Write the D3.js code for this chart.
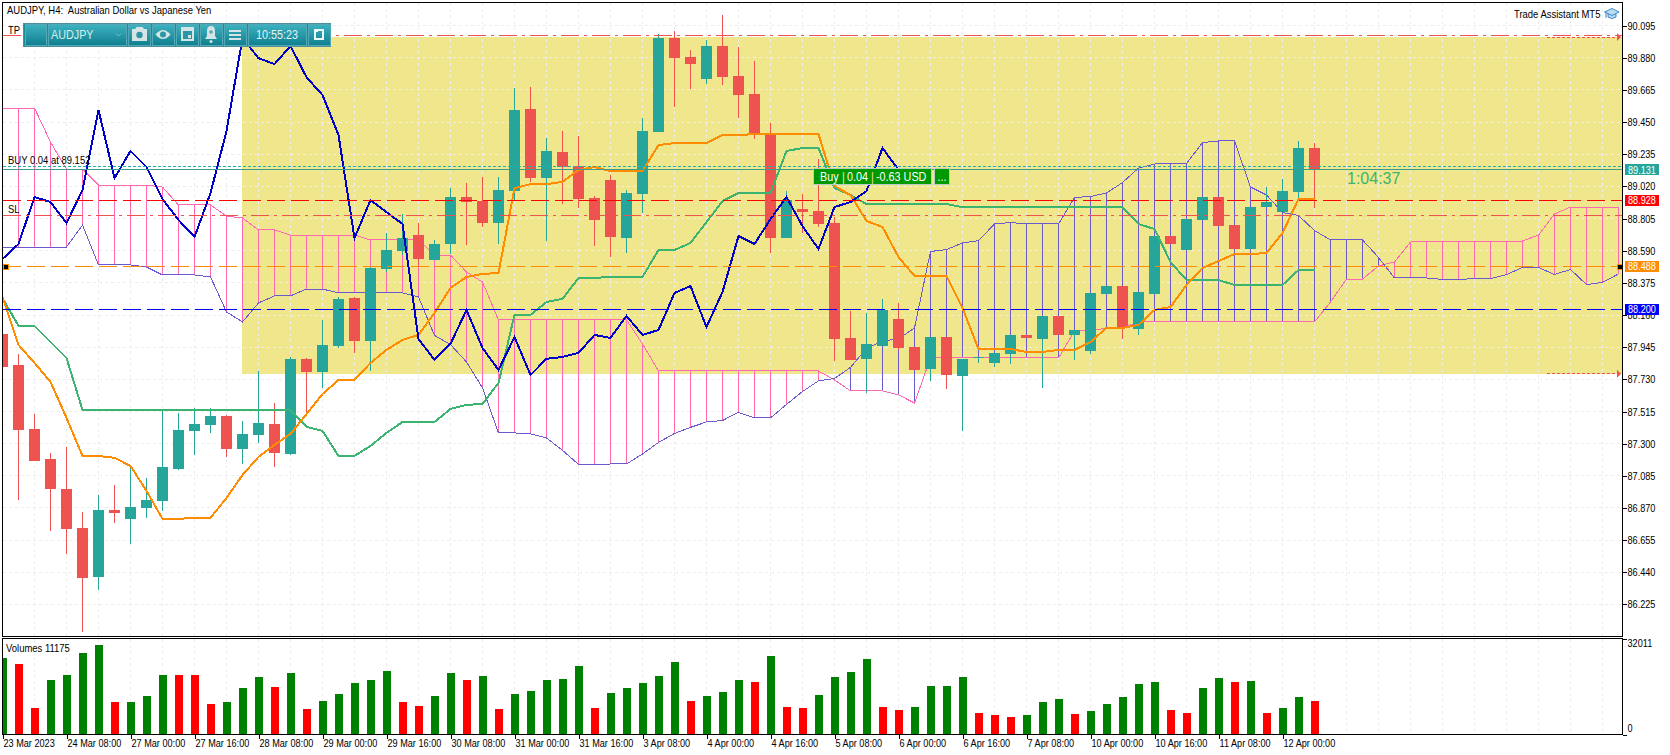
<!DOCTYPE html>
<html>
<head>
<meta charset="utf-8">
<title>AUDJPY H4</title>
<script src="https://cdn.jsdelivr.net/npm/d3@7"></script>
<style>
html, body { margin: 0; padding: 0; background: #fff; }
svg { display: block; }
text { font-family: "Liberation Sans", sans-serif; font-size: 11px; fill: #000; }
.crisp { shape-rendering: crispEdges; }
.axis path { display: none; }
.axis line { stroke: #000; }
</style>
</head>
<body>
<svg id="chart" width="1670" height="755"></svg>
<script>
const opens = [
  88.034, 87.827, 87.398, 87.198, 86.997, 86.737, 86.410, 86.857, 86.797, 86.870,
  86.917, 87.130, 87.385, 87.425, 87.485, 87.265, 87.358, 87.432, 87.231, 87.867,
  87.780, 87.953, 88.274, 87.987, 88.468, 88.588, 88.695, 88.528, 88.635, 88.949,
  88.922, 88.775, 88.989, 89.537, 89.076, 89.250, 89.157, 88.943, 89.063, 88.675,
  88.969, 89.384, 90.012, 89.885, 89.738, 89.959, 89.758, 89.638, 89.370, 88.675,
  88.869, 88.856, 88.775, 88.007, 87.867, 87.953, 88.134, 87.947, 87.800, 88.013,
  87.753, 87.873, 87.840, 87.900, 88.027, 88.000, 88.154, 88.027, 87.920, 88.301,
  88.354, 88.067, 88.301, 88.689, 88.595, 88.796, 88.949, 88.762, 88.602, 88.882,
  88.849, 88.983, 89.277
];
const highs = [
  88.034, 87.900, 87.498, 87.238, 87.278, 86.844, 86.957, 87.024, 87.144, 87.070,
  87.525, 87.505, 87.539, 87.539, 87.492, 87.452, 87.786, 87.572, 87.880, 87.873,
  88.127, 88.281, 88.281, 88.488, 88.709, 88.836, 88.775, 88.662, 89.009, 89.043,
  89.083, 89.083, 89.678, 89.685, 89.344, 89.390, 89.357, 88.956, 89.096, 88.996,
  89.477, 90.039, 90.059, 89.932, 89.999, 90.166, 89.952, 89.858, 89.444, 88.989,
  88.969, 89.203, 88.816, 88.187, 88.174, 88.268, 88.241, 87.947, 88.013, 88.013,
  87.867, 87.880, 87.907, 88.027, 88.027, 88.154, 88.154, 88.060, 88.308, 88.354,
  88.354, 88.314, 88.689, 88.689, 88.802, 88.949, 88.949, 88.762, 88.882, 89.016,
  89.069, 89.324, 89.310
];
const lows = [
  87.806, 86.924, 87.184, 86.717, 86.563, 86.042, 86.323, 86.770, 86.630, 86.804,
  86.850, 87.124, 87.225, 87.372, 87.211, 87.164, 87.305, 87.144, 87.225, 87.505,
  87.673, 87.940, 87.907, 87.786, 88.448, 88.561, 88.488, 88.528, 88.568, 88.628,
  88.749, 88.635, 88.929, 89.050, 88.655, 88.902, 88.876, 88.622, 88.548, 88.575,
  88.842, 89.384, 89.551, 89.671, 89.705, 89.698, 89.477, 89.337, 88.575, 88.675,
  88.709, 88.749, 87.853, 87.860, 87.639, 87.953, 87.927, 87.793, 87.720, 87.666,
  87.385, 87.840, 87.813, 87.833, 88.007, 87.673, 88.027, 87.860, 87.900, 88.301,
  88.000, 88.027, 88.301, 88.635, 88.595, 88.796, 88.755, 88.602, 88.602, 88.882,
  88.849, 88.929, 88.876
];
const closes = [
  87.813, 87.391, 87.184, 86.997, 86.730, 86.403, 86.857, 86.837, 86.877, 86.924,
  87.144, 87.391, 87.432, 87.485, 87.265, 87.365, 87.439, 87.238, 87.867, 87.780,
  87.960, 88.268, 87.987, 88.475, 88.595, 88.675, 88.535, 88.635, 88.949, 88.916,
  88.775, 88.996, 89.531, 89.076, 89.257, 89.150, 88.936, 88.796, 88.682, 88.976,
  89.390, 90.012, 89.878, 89.838, 89.959, 89.751, 89.631, 89.364, 88.675, 88.929,
  88.849, 88.769, 88.000, 87.860, 87.967, 88.194, 87.940, 87.793, 88.013, 87.759,
  87.867, 87.880, 87.907, 88.027, 88.007, 88.154, 88.027, 88.060, 88.308, 88.354,
  88.080, 88.314, 88.689, 88.635, 88.802, 88.949, 88.755, 88.602, 88.882, 88.916,
  88.989, 89.277, 89.131
];
const volumes = [
  25640, 23620, 8840, 18240, 19920, 27320, 30000, 10850, 10900, 12870,
  19920, 19900, 19880, 10180, 10850, 15560, 19250, 15890, 20600, 8500,
  11190, 13540, 17240, 18240, 21270, 10850, 9510, 12870, 20600, 18240,
  19590, 8500, 13540, 14550, 18240, 18580, 22950, 8840, 13880, 15560,
  17240, 19590, 24290, 11190, 12870, 14210, 18240, 17570, 26310, 9170,
  8840, 13200, 19250, 20930, 25300, 9170, 8160, 9170, 16230, 16260,
  19250, 7160, 6480, 5810, 6480, 10850, 11860, 6820, 7830, 10180,
  12530, 16900, 17570, 8160, 7160, 15560, 18920, 17570, 17910, 7160,
  8840, 12530, 11175
];
const tenkan = [
  88.281, 87.960, 87.840, 87.713, 87.472, 87.218, 87.218, 87.205, 87.151, 86.984,
  86.797, 86.797, 86.804, 86.804, 86.937, 87.091, 87.211, 87.292, 87.365, 87.498,
  87.632, 87.726, 87.726, 87.840, 87.927, 87.994, 88.027, 88.174, 88.341, 88.415,
  88.435, 88.441, 89.009, 89.036, 89.036, 89.050, 89.130, 89.150, 89.123, 89.123,
  89.123, 89.297, 89.310, 89.310, 89.310, 89.364, 89.364, 89.370, 89.370, 89.370,
  89.370, 89.370, 89.023, 88.963, 88.789, 88.749, 88.548, 88.421, 88.421, 88.421,
  88.207, 87.933, 87.933, 87.933, 87.913, 87.913, 87.927, 87.927, 87.980, 88.074,
  88.074, 88.094, 88.194, 88.214, 88.361, 88.475, 88.521, 88.568, 88.568, 88.575,
  88.709, 88.936, 88.936
];
const kijun = [
  88.274, 88.087, 88.087, 87.980, 87.873, 87.525, 87.525, 87.525, 87.525, 87.525,
  87.525, 87.525, 87.525, 87.525, 87.525, 87.525, 87.525, 87.525, 87.525, 87.412,
  87.385, 87.218, 87.218, 87.285, 87.372, 87.445, 87.445, 87.445, 87.532, 87.559,
  87.566, 87.706, 88.161, 88.161, 88.247, 88.268, 88.408, 88.408, 88.415, 88.415,
  88.415, 88.595, 88.595, 88.642, 88.782, 88.922, 88.976, 88.976, 88.976, 89.257,
  89.277, 89.277, 89.009, 88.963, 88.902, 88.902, 88.902, 88.902, 88.902, 88.902,
  88.882, 88.882, 88.882, 88.882, 88.882, 88.882, 88.882, 88.882, 88.882, 88.882,
  88.882, 88.769, 88.735, 88.515, 88.394, 88.394, 88.394, 88.361, 88.361, 88.361,
  88.361, 88.461, 88.461
];
const chikou = [
  88.535, 88.635, 88.949, 88.916, 88.775, 88.996, 89.531, 89.076, 89.257, 89.150,
  88.936, 88.796, 88.682, 88.976, 89.390, 90.012, 89.878, 89.838, 89.959, 89.751,
  89.631, 89.364, 88.675, 88.929, 88.849, 88.769, 88.000, 87.860, 87.967, 88.194,
  87.940, 87.793, 88.013, 87.759, 87.867, 87.880, 87.907, 88.027, 88.007, 88.154,
  88.027, 88.060, 88.308, 88.354, 88.080, 88.314, 88.689, 88.635, 88.802, 88.949,
  88.755, 88.602, 88.882, 88.916, 88.989, 89.277, 89.131
];
const senkouA = [
  88.615, 88.615, 88.615, 88.615, 88.615, 88.762, 88.495, 88.495, 88.495, 88.481,
  88.428, 88.428, 88.428, 88.415, 88.181, 88.114, 88.241, 88.288, 88.288, 88.334,
  88.334, 88.308, 88.308, 88.308, 88.308, 88.308, 88.281, 88.024, 87.963, 87.846,
  87.673, 87.372, 87.372, 87.365, 87.338, 87.255, 87.161, 87.161, 87.164, 87.164,
  87.231, 87.308, 87.368, 87.409, 87.445, 87.455, 87.509, 87.472, 87.472, 87.562,
  87.649, 87.720, 87.736, 87.810, 87.937, 87.987, 88.000, 88.074, 88.585, 88.598,
  88.642, 88.658, 88.769, 88.779, 88.769, 88.769, 88.769, 88.946, 88.953, 88.976,
  89.046, 89.143, 89.170, 89.173, 89.173, 89.314, 89.324, 89.324, 89.016, 88.963,
  88.846, 88.826, 88.725, 88.662, 88.662, 88.662, 88.545, 88.408, 88.408, 88.408,
  88.398, 88.398, 88.404, 88.404, 88.431, 88.478, 88.478, 88.431, 88.465, 88.364,
  88.378, 88.435
];
const senkouB = [
  89.544, 89.544, 89.544, 89.317, 89.136, 89.136, 89.029, 89.029, 89.029, 89.029,
  89.016, 88.896, 88.896, 88.896, 88.822, 88.809, 88.729, 88.729, 88.695, 88.695,
  88.695, 88.695, 88.695, 88.662, 88.662, 88.662, 88.662, 88.561, 88.561, 88.448,
  88.381, 88.127, 88.127, 88.127, 88.127, 88.127, 88.127, 88.127, 88.127, 88.127,
  87.967, 87.786, 87.786, 87.786, 87.786, 87.786, 87.786, 87.786, 87.786, 87.786,
  87.786, 87.786, 87.726, 87.653, 87.653, 87.653, 87.626, 87.572, 87.873, 87.873,
  87.873, 87.873, 87.873, 87.873, 87.873, 87.873, 87.873, 88.054, 88.054, 88.074,
  88.074, 88.114, 88.114, 88.114, 88.114, 88.114, 88.114, 88.114, 88.114, 88.114,
  88.114, 88.114, 88.114, 88.247, 88.401, 88.401, 88.488, 88.515, 88.648, 88.655,
  88.655, 88.655, 88.655, 88.655, 88.655, 88.655, 88.695, 88.836, 88.882, 88.882,
  88.882, 88.882
];
const priceTicks = [90.095, 89.88, 89.665, 89.45, 89.235, 89.02, 88.805, 88.59, 88.375, 88.16,
  87.945, 87.73, 87.515, 87.3, 87.085, 86.87, 86.655, 86.44, 86.225];
const timeLabels = ["23 Mar 2023", "24 Mar 08:00", "27 Mar 00:00", "27 Mar 16:00", "28 Mar 08:00",
  "29 Mar 00:00", "29 Mar 16:00", "30 Mar 08:00", "31 Mar 00:00", "31 Mar 16:00", "3 Apr 08:00",
  "4 Apr 00:00", "4 Apr 16:00", "5 Apr 08:00", "6 Apr 00:00", "6 Apr 16:00", "7 Apr 08:00",
  "10 Apr 00:00", "10 Apr 16:00", "11 Apr 08:00", "12 Apr 00:00"];
const volumeTicks = [0, 32011];

const paneLeft = 2.5, paneRight = 1622.5, mainTop = 2.5, mainBottom = 636.5, subTop = 638.5, subBottom = 734.5;
const red = "#ef5350", teal = "#26a69a";

const svg = d3.select("#chart");
const x = d3.scaleLinear().domain([0, 101]).range([2.5, 1618.5]);
const y = d3.scaleLinear().domain([90.095, 86.225]).range([25.7, 604.4]);
const yVol = d3.scaleLinear().domain([0, 32011]).range([subBottom, subTop]);
const row = p => Math.floor(y(p)) + 0.5;

const defs = svg.append("defs");
defs.append("clipPath").attr("id", "mainClip").append("rect")
    .attr("x", paneLeft).attr("y", mainTop).attr("width", paneRight - paneLeft).attr("height", mainBottom - mainTop);
defs.append("clipPath").attr("id", "subClip").append("rect")
    .attr("x", paneLeft).attr("y", subTop).attr("width", paneRight - paneLeft).attr("height", subBottom - subTop);
const grad = defs.append("linearGradient").attr("id", "barGrad").attr("x1", 0).attr("x2", 0).attr("y1", 0).attr("y2", 1);
grad.append("stop").attr("offset", 0).attr("stop-color", "#3eb2c0");
grad.append("stop").attr("offset", 1).attr("stop-color", "#0f7f8f");

const main = svg.append("g").attr("clip-path", "url(#mainClip)").attr("class", "crisp");
const sub = svg.append("g").attr("clip-path", "url(#subClip)").attr("class", "crisp");

// trade zone, from the TP level to the SL target
main.append("rect")
    .attr("x", x(15) - 0.5).attr("y", y(90.019))
    .attr("width", paneRight - x(15) + 0.5).attr("height", y(87.768) - y(90.019))
    .attr("fill", "#f0e68c");

// grid
const gridX = d3.range(2, 101, 2);
[main, sub].forEach(g => {
  g.selectAll("line.vgrid").data(gridX).enter().append("line")
      .attr("class", "vgrid")
      .attr("x1", d => x(d)).attr("x2", d => x(d))
      .attr("y1", mainTop).attr("y2", subBottom)
      .attr("stroke", "#ededed").attr("stroke-dasharray", "3,3");
});
main.selectAll("line.hgrid").data(priceTicks).enter().append("line")
    .attr("class", "hgrid")
    .attr("x1", paneLeft).attr("x2", paneRight)
    .attr("y1", d => row(d)).attr("y2", d => row(d))
    .attr("stroke", "#ededed").attr("stroke-dasharray", "3,3");

// ichimoku cloud
main.selectAll("line.hatch").data(senkouA).enter().append("line")
    .attr("class", "hatch")
    .attr("x1", (d, i) => x(i)).attr("x2", (d, i) => x(i))
    .attr("y1", d => y(d)).attr("y2", (d, i) => y(senkouB[i]))
    .attr("stroke", (d, i) => senkouB[i] > d ? "#ff69b4" : "#6a5acd");

const lineOf = d3.line().x((d, i) => x(i)).y(d => y(d));
main.append("path").attr("d", lineOf(senkouB)).attr("fill", "none").attr("stroke", "#ff69b4");
main.append("path").attr("d", lineOf(senkouA)).attr("fill", "none").attr("stroke", "#6a5acd");

// candles
const candles = closes.map((c, i) => ({ i, o: opens[i], h: highs[i], l: lows[i], c }));
main.selectAll("line.wick").data(candles).enter().append("line")
    .attr("class", "wick")
    .attr("x1", d => x(d.i)).attr("x2", d => x(d.i))
    .attr("y1", d => y(d.h)).attr("y2", d => y(d.l))
    .attr("stroke", d => d.c >= d.o ? teal : red);
main.selectAll("rect.body").data(candles).enter().append("rect")
    .attr("class", "body")
    .attr("x", d => x(d.i) - 5.5).attr("width", 11)
    .attr("y", d => y(Math.max(d.o, d.c)))
    .attr("height", d => Math.max(1, Math.abs(y(d.o) - y(d.c))))
    .attr("fill", d => d.c >= d.o ? teal : red);

// ichimoku lines
main.append("path").attr("d", lineOf(kijun)).attr("fill", "none").attr("stroke", "#3cb371").attr("stroke-width", 2);
main.append("path").attr("d", lineOf(tenkan)).attr("fill", "none").attr("stroke", "#ff8c00").attr("stroke-width", 2);
main.append("path").attr("d", lineOf(chikou)).attr("fill", "none").attr("stroke", "#0000cd").attr("stroke-width", 2);

// level lines
const levels = [
  { p: 90.03, color: red, dash: "18,5,3,5" },
  { p: 89.152, color: "#20b2aa", dash: "3,2" },
  { p: 89.131, color: "#3c9c8c", dash: null },
  { p: 88.928, color: "#ff0000", dash: "18,6" },
  { p: 88.825, color: red, dash: "18,5,3,5" },
  { p: 88.488, color: "#ff8c00", dash: "18,6" },
  { p: 88.2, color: "#0000ff", dash: "18,6" }
];
main.selectAll("line.level").data(levels).enter().append("line")
    .attr("class", "level")
    .attr("x1", paneLeft).attr("x2", paneRight)
    .attr("y1", d => row(d.p)).attr("y2", d => row(d.p))
    .attr("stroke", d => d.color).attr("stroke-dasharray", d => d.dash);

// zone target arrows at right
[90.019, 87.768].forEach(p => {
  main.append("line").attr("x1", 1547).attr("x2", 1617).attr("y1", row(p)).attr("y2", row(p))
      .attr("stroke", red).attr("stroke-dasharray", "3,2");
  svg.append("path").attr("d", `M1617,${y(p) - 4}L1621,${y(p)}L1617,${y(p) + 4}Z`).attr("fill", red);
});

// line anchors
[5.5, 1619.5].forEach(px => {
  svg.append("rect").attr("class", "crisp").attr("x", px - 2.5).attr("y", row(88.488) - 2.5).attr("width", 5).attr("height", 5)
      .attr("fill", "#000").attr("stroke", "#ff8c00");
});

// volumes
sub.selectAll("rect.vol").data(volumes).enter().append("rect")
    .attr("class", "vol")
    .attr("x", (d, i) => x(i) - 4).attr("width", 8)
    .attr("y", d => yVol(d)).attr("height", d => subBottom - yVol(d))
    .attr("fill", (d, i) => i === 0 || d > volumes[i - 1] ? "#008000" : "#ff0000");

// pane frames
[[mainTop, mainBottom], [subTop, subBottom]].forEach(([t, b]) => {
  svg.append("rect").attr("class", "crisp")
      .attr("x", paneLeft).attr("y", t).attr("width", paneRight - paneLeft).attr("height", b - t)
      .attr("fill", "none").attr("stroke", "#000");
});

// axes
svg.append("g").attr("class", "axis crisp")
    .attr("transform", `translate(${paneRight},0)`)
    .call(d3.axisRight(y).tickValues(priceTicks).tickFormat(d3.format(".3f")).tickSize(4).tickPadding(1))
    .selectAll("text").style("font-size", "11px").style("font-family", null);
svg.append("g").attr("class", "axis crisp")
    .attr("transform", `translate(${paneRight},0)`)
    .call(d3.axisRight(yVol).tickValues(volumeTicks).tickFormat(d3.format("d")).tickSize(4).tickPadding(1))
    .selectAll("text").attr("dy", (d, i) => i === 0 ? "-0.3em" : "0.75em");
const timeIdx = timeLabels.map((d, i) => i * 4);
const timeAxis = svg.append("g").attr("class", "axis crisp")
    .attr("transform", `translate(0,${subBottom})`)
    .call(d3.axisBottom(x).tickValues(timeIdx).tickFormat((d, i) => timeLabels[i]).tickSize(4).tickPadding(1));
timeAxis.selectAll("text").attr("text-anchor", "start").attr("x", 0.5);

// axis price labels
const priceLabels = [
  { p: 89.131, color: teal, text: "89.131" },
  { p: 88.928, color: "#ff0000", text: "88.928" },
  { p: 88.488, color: "#ff8c00", text: "88.488" },
  { p: 88.2, color: "#0000ff", text: "88.200" }
];
const pl = svg.selectAll("g.plabel").data(priceLabels).enter().append("g").attr("class", "plabel");
pl.append("rect").attr("class", "crisp")
    .attr("x", 1625).attr("width", 34).attr("y", d => y(d.p) - 5.5).attr("height", 11)
    .attr("fill", d => d.color);
pl.append("text").attr("x", 1628).attr("y", d => y(d.p)).attr("dy", "0.36em")
    .style("fill", "#fff").text(d => d.text);

// graduation cap
const cap = svg.append("g").attr("fill", "#bcdcf4").attr("stroke", "#3a8ac8");
cap.append("path").attr("d", "M1608,14V17Q1612,20 1616,17V14Z");
cap.append("path").attr("d", "M1604.5,12L1612,8.5L1619,12L1612,15.5Z");
cap.append("path").attr("d", "M1606,13V18").attr("fill", "none");

// position label
const buy = svg.append("g");
buy.append("rect").attr("class", "crisp").attr("x", 813.5).attr("y", 168.5).attr("width", 118).attr("height", 16)
    .attr("fill", "#009900").attr("stroke", "#b8cfc8");
buy.append("rect").attr("class", "crisp").attr("x", 934.5).attr("y", 168.5).attr("width", 15).attr("height", 16)
    .attr("fill", "#009900").attr("stroke", "#b8cfc8");
const buyParts = [["Buy", 820, "#fff"], ["|", 842, "#ffe08a"], ["0.04", 847, "#fff"], ["|", 871, "#ffe08a"], ["-0.63 USD", 876, "#fff"]];
buy.selectAll("text.part").data(buyParts).enter().append("text")
    .attr("class", "part")
    .attr("x", d => d[1]).attr("y", 176.5).attr("dy", "0.36em")
    .style("font-size", "13px").style("fill", d => d[2]).text(d => d[0]);
buy.append("text").attr("x", 942).attr("y", 176.5).attr("dy", "0.36em").attr("text-anchor", "middle")
    .style("font-size", "13px").style("fill", "#fff").text("...");

// panel of buttons
const panel = svg.append("g");
panel.append("rect").attr("class", "crisp").attr("x", 23.5).attr("y", 23.5).attr("width", 307).attr("height", 23)
    .attr("fill", "#1c8a99").attr("stroke", "#4d8f9a");
const buttons = [[25, 21], [48, 78], [128, 22], [152, 22], [176, 22], [200, 22], [224, 22], [248, 58], [308, 22]];
panel.selectAll("rect.btn").data(buttons).enter().append("rect")
    .attr("class", "btn crisp")
    .attr("x", d => d[0] + 0.5).attr("y", 24.5).attr("width", d => d[1]).attr("height", 21)
    .attr("fill", "url(#barGrad)").attr("stroke", "#52a8b4");
panel.append("text").attr("x", 51).attr("y", 34.5).attr("dy", "0.36em")
    .style("font-size", "13px").style("fill", "#d5eef0").text("AUDJPY");
panel.append("path").attr("d", "M116,33.5L118.5,36L121,33.5").attr("fill", "none").attr("stroke", "#7cc0c8");
panel.append("text").attr("x", 277).attr("y", 34.5).attr("dy", "0.36em").attr("text-anchor", "middle")
    .style("font-size", "13px").style("fill", "#e4f4f5").text("10:55:23");
const icon = panel.append("g").attr("fill", "#d6e4e5").attr("stroke", "none");
// camera
icon.append("path").attr("d", "M132,29h3l1.5-2h6l1.5,2h3v12h-15Z");
icon.append("circle").attr("cx", 139.5).attr("cy", 35).attr("r", 3.2).attr("fill", "#2b97a6");
// eye
icon.append("path").attr("d", "M155.5,34.5Q163,25.5 170.5,34.5Q163,43.5 155.5,34.5Z");
icon.append("circle").attr("cx", 163).attr("cy", 34.5).attr("r", 3).attr("fill", "#2b97a6");
// calendar
icon.append("path").attr("d", "M181,27h13v14h-13Z");
icon.append("rect").attr("x", 183).attr("y", 31).attr("width", 9).attr("height", 8).attr("fill", "#2b97a6");
icon.append("rect").attr("x", 188).attr("y", 35).attr("width", 3).attr("height", 3);
// bell
icon.append("path").attr("d", "M211,26q4,0 4,5v5l2,3h-12l2,-3v-5q0,-5 4,-5Z");
icon.append("circle").attr("cx", 211).attr("cy", 41.5).attr("r", 1.5);
icon.append("path").attr("d", "M209,32h4M211,30v4").attr("stroke", "#2b97a6").attr("fill", "none");
// menu
icon.selectAll("rect.m").data([30, 34, 38]).enter().append("rect").attr("class", "m crisp")
    .attr("x", 229).attr("y", d => d).attr("width", 12).attr("height", 2);
// window
icon.append("path").attr("class", "crisp").attr("d", "M314,30.5h4M315,30h8v9h-8Z").attr("fill", "none").attr("stroke", "#eef6f7").attr("stroke-width", 2);

// the terminal font is narrow, squeeze what we have to the same widths
function squeeze(sel, k) {
  sel.each(function () {
    this.setAttribute("textLength", this.getComputedTextLength() * k);
    this.setAttribute("lengthAdjust", "spacingAndGlyphs");
  });
}
squeeze(svg.selectAll("text"), 0.83);

// chart texts run a little wider
const texts = [
  ["AUDJPY, H4:  Australian Dollar vs Japanese Yen", 7, 10],
  ["TP", 8, 30],
  ["BUY 0.04 at 89.152", 8, 160],
  ["SL", 8, 209],
  ["Volumes 11175", 6, 648],
  ["Trade Assistant MT5", 1514, 14]
];
const notes = svg.selectAll("text.note").data(texts).enter().append("text")
    .attr("class", "note")
    .attr("x", d => d[1]).attr("y", d => d[2]).attr("dy", "0.36em")
    .attr("xml:space", "preserve").style("white-space", "pre")
    .text(d => d[0]);
squeeze(notes, 0.86);

// countdown keeps its natural width
svg.append("text").attr("x", 1347).attr("y", 178).attr("dy", "0.36em")
    .style("font-size", "16px").style("fill", "#3cb371")
    .text("1:04:37");
</script>
</body>
</html>
